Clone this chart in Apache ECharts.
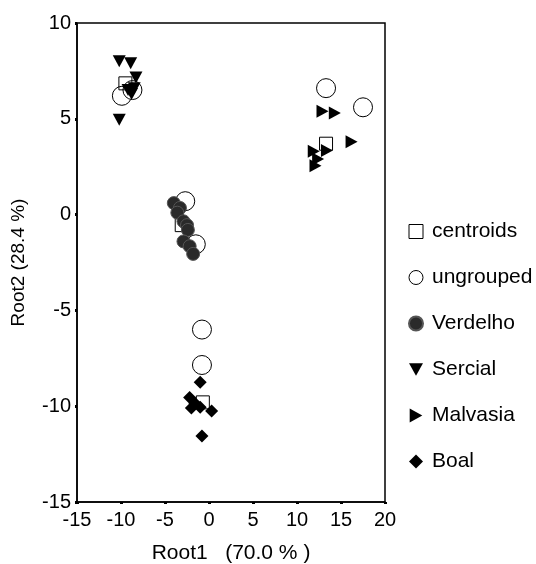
<!DOCTYPE html>
<html>
<head>
<meta charset="utf-8">
<script src="https://cdn.jsdelivr.net/npm/echarts@6/dist/echarts.min.js"></script>
<style>
  html, body { margin: 0; padding: 0; background: #fff; }
  #chart { width: 536px; height: 564px; }
</style>
</head>
<body>
<div id="chart"></div>
<script>
var centroids = [[-9.5, 6.85], [13.3, 3.7], [-3.1, -0.55], [-0.7, -9.8]];
var ungrouped = [[-9.9, 6.2], [-8.7, 6.5], [13.3, 6.6], [17.5, 5.6],
  [-2.7, 0.7], [-1.5, -1.55], [-0.8, -6.0], [-0.8, -7.85]];
var verdelho = [[-4.0, 0.6], [-3.3, 0.35], [-3.6, 0.1], [-2.9, -0.35], [-2.5, -0.55],
  [-2.4, -0.8], [-2.9, -1.4], [-2.2, -1.65], [-1.8, -2.05]];
var sercial = [[-10.2, 8.0], [-8.9, 7.9], [-8.3, 7.15], [-9.2, 6.5], [-8.8, 6.3],
  [-8.5, 6.6], [-10.2, 4.95]];
var malvasia = [[12.9, 5.4], [14.3, 5.3], [16.2, 3.8], [13.4, 3.35], [11.9, 3.3],
  [12.4, 2.9], [12.1, 2.55]];
var boal = [[-1.0, -8.75], [-2.2, -9.55], [-1.6, -9.85], [-2.0, -10.1], [-1.0, -10.05],
  [0.3, -10.25], [-0.8, -11.55]];
var xTicks = [-15, 20, 5];
var yTicks = [-15, 10, 5];

var downTri = 'path://M0,0 L10,0 L5,9 Z';
var rightTri = 'path://M0,0 L9,5 L0,10 Z';
var font = 'Liberation Sans, Arial, sans-serif';

var myChart = echarts.init(document.getElementById('chart'));

var option = {
  animation: false,
  textStyle: { fontFamily: font, color: '#000' },
  grid: {
    left: 77, right: 151, top: 23, bottom: 62,
    outerBoundsMode: 'none',
    show: true, borderColor: '#000', borderWidth: 1.5
  },
  legend: {
    orient: 'vertical',
    left: 403,
    top: 216,
    itemWidth: 14,
    itemHeight: 14,
    itemGap: 25,
    textStyle: { fontSize: 21, color: '#000', fontFamily: font, padding: [0, 0, 0, 4] },
    data: [
      { name: 'centroids', icon: 'rect', itemStyle: { color: '#fff', borderColor: '#000', borderWidth: 1 } },
      { name: 'ungrouped', icon: 'circle', itemStyle: { color: '#fff', borderColor: '#000', borderWidth: 1 } },
      { name: 'Verdelho', icon: 'circle' },
      { name: 'Sercial', icon: downTri },
      { name: 'Malvasia', icon: rightTri },
      { name: 'Boal', icon: 'diamond' }
    ]
  },
  xAxis: {
    type: 'value',
    min: xTicks[0], max: xTicks[1], interval: xTicks[2],
    name: 'Root1   (70.0 % )',
    nameLocation: 'middle',
    nameGap: 41,
    nameTextStyle: { fontSize: 21, color: '#000' },
    axisLine: { onZero: false, lineStyle: { color: '#000', width: 1.5 } },
    axisTick: { show: true, length: 2, lineStyle: { color: '#000', width: 3 } },
    axisLabel: { fontSize: 20, color: '#000', margin: 8 },
    splitLine: { show: false }
  },
  yAxis: {
    type: 'value',
    min: yTicks[0], max: yTicks[1], interval: yTicks[2],
    name: 'Root2 (28.4 %)',
    nameLocation: 'middle',
    nameGap: 49,
    nameTextStyle: { fontSize: 19, color: '#000' },
    axisLine: { onZero: false, lineStyle: { color: '#000', width: 1.5 } },
    axisTick: { show: true, length: 2, lineStyle: { color: '#000', width: 3 } },
    axisLabel: { fontSize: 20, color: '#000', margin: 6 },
    splitLine: { show: false }
  },
  series: [
    {
      name: 'ungrouped', type: 'scatter', data: ungrouped, symbol: 'circle', symbolSize: 19,
      itemStyle: { color: '#fff', borderColor: '#000', borderWidth: 1, opacity: 1 }, z: 2
    },
    {
      name: 'centroids', type: 'scatter', data: centroids, symbol: 'rect', symbolSize: 13,
      itemStyle: { color: 'rgba(0,0,0,0)', borderColor: '#000', borderWidth: 1, opacity: 1 }, z: 3
    },
    {
      name: 'Verdelho', type: 'scatter', data: verdelho, symbol: 'circle', symbolSize: 13,
      itemStyle: { color: '#2a2a2a', borderColor: '#555', borderWidth: 1, opacity: 1 }, z: 4
    },
    {
      name: 'Sercial', type: 'scatter', data: sercial, symbol: downTri, symbolSize: [13, 12],
      itemStyle: { color: '#000', opacity: 1 }, z: 4
    },
    {
      name: 'Malvasia', type: 'scatter', data: malvasia, symbol: rightTri, symbolSize: [12, 13],
      itemStyle: { color: '#000', opacity: 1 }, z: 4
    },
    {
      name: 'Boal', type: 'scatter', data: boal, symbol: 'diamond', symbolSize: 13,
      itemStyle: { color: '#000', opacity: 1 }, z: 4
    }
  ]
};

myChart.setOption(option);
</script>
</body>
</html>
